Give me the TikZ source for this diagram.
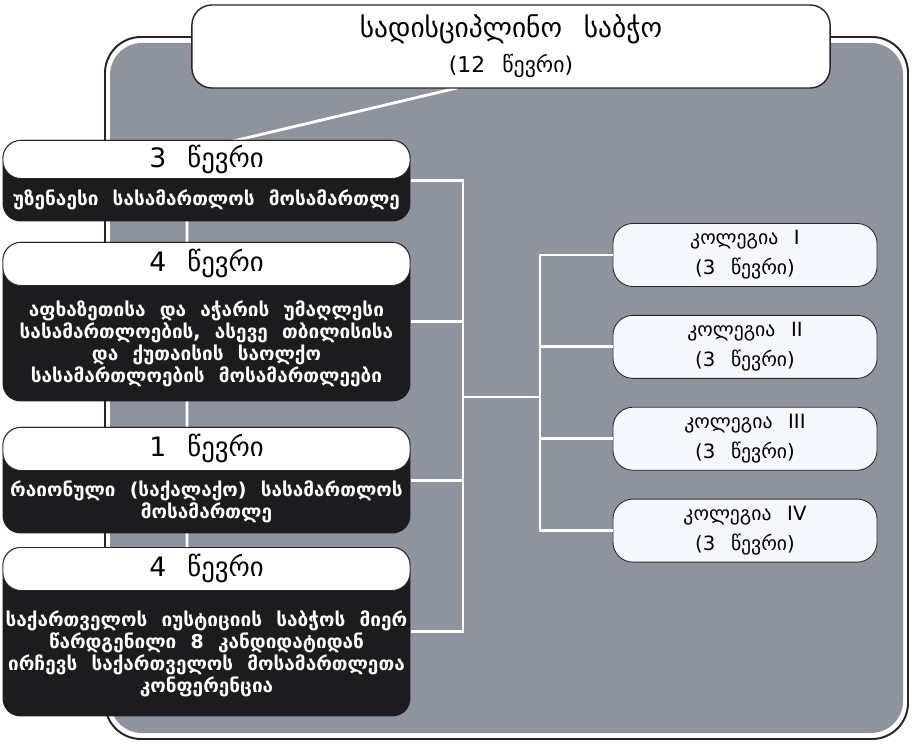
\documentclass[tikz,border=0pt]{standalone}
\usepackage{fontspec}
\setmainfont[WordSpace=2.5]{DejaVu Sans}
\newfontfamily\bodyfont{DejaVu Sans}
\newcommand\widespaces{\spaceskip=0.75em\relax}
\usetikzlibrary{positioning, fit, backgrounds}
\definecolor{panelgrey}{RGB}{142,147,157}
\definecolor{inkdark}{RGB}{40,36,40}
\definecolor{boxwhite}{RGB}{244,247,251}
\definecolor{bodyblack}{RGB}{28,27,30}
\tikzstyle{titlebox}   = [rectangle, rounded corners=0.5cm, minimum width=15.95cm, minimum height=2.075cm,
                          align=center, draw=inkdark, line width=1pt, fill=white,
                          font=\fontsize{15.5}{25}\selectfont]
\tikzstyle{header}     = [rectangle, rounded corners=0.45cm, minimum width=10.175cm, minimum height=1.075cm,
                          anchor=north, text centered, draw=inkdark, line width=0.6pt, fill=white,
                          font=\fontsize{19}{22}\selectfont]
\tikzstyle{memberbody} = [rectangle, text width=10.1cm, align=center, inner sep=0pt, text=white,
                          font=\bodyfont\bfseries\fontsize{13.5}{15.5}\selectfont,
                          execute at begin node=\widespaces]
\tikzstyle{blackbox}   = [rectangle, rounded corners=0.45cm, fill=bodyblack, inner sep=0pt]
\tikzstyle{college}    = [rectangle, rounded corners=0.5cm, minimum width=6.6cm, minimum height=1.575cm,
                          align=center, draw=inkdark, line width=0.6pt, fill=boxwhite,
                          font=\fontsize{14}{21.5}\selectfont]
\tikzstyle{link}       = [draw=white, line width=2pt]

\begin{document}
\begin{tikzpicture}[x=0.025cm, y=-0.025cm]
    \useasboundingbox (0,0) rectangle (915,747);

    % council
    \node (title) [titlebox] at (511,46.5) {{\fontsize{19.5}{25}\selectfont სადისციპლინო საბჭო}\\ (12 წევრი)};

    % members
    \node (hdrA) [header, minimum height=0.95cm] at (206.5,140) {3 წევრი};
    \node (bodyA) [memberbody, below=0pt of hdrA, minimum height=1.05cm] {უზენაესი სასამართლოს მოსამართლე};
    \node (hdrB) [header] at (206.5,242) {4 წევრი};
    \node (bodyB) [memberbody, below=0pt of hdrB, minimum height=2.875cm] {აფხაზეთისა და აჭარის უმაღლესი\\ სასამართლოების, ასევე თბილისისა\\ და ქუთაისის საოლქო\\ სასამართლოების მოსამართლეები};
    \node (hdrC) [header] at (206.5,427) {1 წევრი};
    \node (bodyC) [memberbody, below=0pt of hdrC, minimum height=1.55cm] {რაიონული (საქალაქო) სასამართლოს\\ მოსამართლე};
    \node (hdrD) [header] at (206.5,547) {4 წევრი};
    \node (bodyD) [memberbody, below=0pt of hdrD, minimum height=3.125cm] {საქართველოს იუსტიციის საბჭოს მიერ\\ წარდგენილი 8 კანდიდატიდან\\ ირჩევს საქართველოს მოსამართლეთა\\ კონფერენცია};

    % colleges
    \node (colI) [college] at (745,255) {კოლეგია I\\ (3 წევრი)};
    \node (colII) [college, below=0.7cm of colI] {კოლეგია II\\ (3 წევრი)};
    \node (colIII) [college, below=0.7cm of colII] {კოლეგია III\\ (3 წევრი)};
    \node (colIV) [college, below=0.7cm of colIII] {კოლეგია IV\\ (3 წევრი)};

    \begin{scope}[on background layer]
        \fill[white] (0,0) rectangle (915,747);
        \draw[inkdark, line width=1.4pt, fill=white, rounded corners=0.9cm] (105,37) rectangle (908,739);
        \fill[panelgrey, rounded corners=0.8cm] (110,43) rectangle (903,733);
        \coordinate (tapex) at (457,88);
        \coordinate (lspine) at (187,152);
        \draw[link] (tapex) -- (lspine) -- (lspine |- hdrD.north);
        \node (boxA) [blackbox, fit=(hdrA)(bodyA)] {};
        \node (boxB) [blackbox, fit=(hdrB)(bodyB)] {};
        \node (boxC) [blackbox, fit=(hdrC)(bodyC)] {};
        \node (boxD) [blackbox, fit=(hdrD)(bodyD)] {};
    \end{scope}

    \coordinate (jn) at (463,397);
    \coordinate (jr) at (540,397);
    \draw[link] (boxA.east) -- (boxA.east -| jn) -- (boxD.east -| jn) -- (boxD.east);
    \draw[link] (boxB.east) -- (boxB.east -| jn);
    \draw[link] (boxC.east) -- (boxC.east -| jn);
    \draw[link] (jn) -- (jr);
    \draw[link] (colI.west) -- (colI.west -| jr) -- (colIV.west -| jr) -- (colIV.west);
    \draw[link] (colII.west) -- (colII.west -| jr);
    \draw[link] (colIII.west) -- (colIII.west -| jr);
\end{tikzpicture}
\end{document}
